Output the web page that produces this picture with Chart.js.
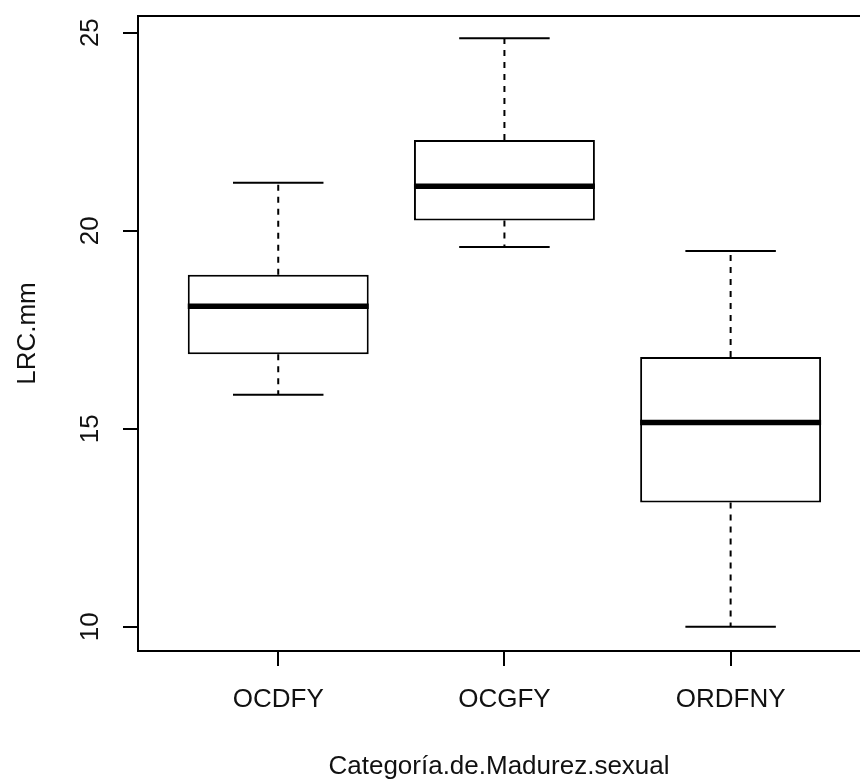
<!DOCTYPE html>
<html>
<head>
<meta charset="utf-8">
<script src="https://cdn.jsdelivr.net/npm/chart.js@4.4.1/dist/chart.umd.min.js"></script>
<style>
  html, body { margin: 0; padding: 0; background: #fff; overflow: hidden; }
  #wrap { width: 860px; height: 780px; }
</style>
</head>
<body>
<div id="wrap"><canvas id="boxChart" width="860" height="780"></canvas></div>
<script>
/* Boxplot LRC.mm por categoría */
const categories = ['OCDFY', 'OCGFY', 'ORDFNY'];
const lowerWhisker = [15.86, 19.59, 10.0];
const q1 = [16.88, 20.26, 13.14];
const median = [18.09, 21.12, 15.16];
const q3 = [18.89, 22.29, 16.81];
const upperWhisker = [21.21, 24.86, 19.49];
const yTicks = [10, 15, 20, 25];

const xPos = categories.map((c, i) => i + 1);
const FONT = "'Liberation Sans', Arial, sans-serif";
const INK = '#000';

// whiskers, caps, medians and the top frame line
const boxExtras = {
    id: 'boxExtras',
    afterDatasetsDraw(chart) {
        const { ctx, chartArea, scales: { x, y } } = chart;
        const halfCap = (x.getPixelForValue(1.2) - x.getPixelForValue(1)); // cap = 0.4 units
        const halfBox = (x.getPixelForValue(1.4) - x.getPixelForValue(1)); // box = 0.8 units
        ctx.save();
        ctx.strokeStyle = INK;
        xPos.forEach((v, i) => {
            const cx = x.getPixelForValue(v);
            // dashed whiskers
            ctx.lineWidth = 2;
            ctx.setLineDash([6, 6]);
            ctx.beginPath();
            ctx.moveTo(cx, y.getPixelForValue(q3[i]));
            ctx.lineTo(cx, y.getPixelForValue(upperWhisker[i]));
            ctx.moveTo(cx, y.getPixelForValue(q1[i]));
            ctx.lineTo(cx, y.getPixelForValue(lowerWhisker[i]));
            ctx.stroke();
            // caps
            ctx.setLineDash([]);
            ctx.beginPath();
            [upperWhisker[i], lowerWhisker[i]].forEach(w => {
                const py = y.getPixelForValue(w);
                ctx.moveTo(cx - halfCap, py);
                ctx.lineTo(cx + halfCap, py);
            });
            ctx.stroke();
            // median
            ctx.lineWidth = 5.5;
            ctx.lineCap = 'butt';
            ctx.beginPath();
            const my = y.getPixelForValue(median[i]);
            ctx.moveTo(cx - halfBox, my);
            ctx.lineTo(cx + halfBox, my);
            ctx.stroke();
        });
        // top of the frame
        ctx.lineWidth = 2;
        ctx.beginPath();
        ctx.moveTo(chartArea.left - 1, chartArea.top);
        ctx.lineTo(chartArea.right, chartArea.top);
        ctx.stroke();
        ctx.restore();
    }
};

new Chart(document.getElementById('boxChart'), {
    type: 'bar',
    data: {
        datasets: [{
            data: xPos.map((v, i) => ({ x: v, y: [q1[i], q3[i]] })),
            backgroundColor: '#fff',
            borderColor: INK,
            borderWidth: 2,
            borderSkipped: false,
            categoryPercentage: 0.8,
            barPercentage: 1.0
        }]
    },
    options: {
        responsive: false,
        animation: false,
        devicePixelRatio: 1,
        layout: { padding: { top: 16, right: 0, bottom: 0, left: 0 } },
        plugins: { legend: { display: false }, tooltip: { enabled: false } },
        scales: {
            x: {
                type: 'linear',
                offset: false,
                min: 0.38,
                max: 3.572,
                afterBuildTicks: s => { s.ticks = xPos.map(v => ({ value: v })); },
                afterFit: s => { s.height = 129; s.paddingLeft = 0; s.paddingRight = 0; },
                grid: { display: true, offset: false, drawOnChartArea: false, drawTicks: true, tickLength: 15, color: INK, lineWidth: 2 },
                border: { display: true, color: INK, width: 2 },
                ticks: {
                    padding: 21,
                    color: '#111',
                    font: { family: FONT, size: 26, lineHeight: 1 },
                    maxRotation: 0, minRotation: 0,
                    callback: v => categories[v - 1] || ''
                },
                title: {
                    display: true,
                    text: 'Categoría.de.Madurez.sexual',
                    color: '#111',
                    font: { family: FONT, size: 26, lineHeight: 1 },
                    padding: { top: 0, bottom: 0 }
                }
            },
            y: {
                min: 9.39,
                max: 25.42,
                afterBuildTicks: s => { s.ticks = yTicks.map(v => ({ value: v })); },
                afterFit: s => { s.width = 138; s.paddingTop = 0; s.paddingBottom = 0; },
                grid: { display: true, drawOnChartArea: false, drawTicks: true, tickLength: 15, color: INK, lineWidth: 2 },
                border: { display: true, color: INK, width: 2 },
                ticks: {
                    padding: 18,
                    color: '#111',
                    crossAlign: 'center',
                    minRotation: 90, maxRotation: 90,
                    font: { family: FONT, size: 26, lineHeight: 1 }
                },
                title: {
                    display: true,
                    text: 'LRC.mm',
                    color: '#111',
                    font: { family: FONT, size: 26, lineHeight: 1 },
                    padding: { top: 14.5, bottom: 0 }
                }
            }
        }
    },
    plugins: [boxExtras]
});
</script>
</body>
</html>
